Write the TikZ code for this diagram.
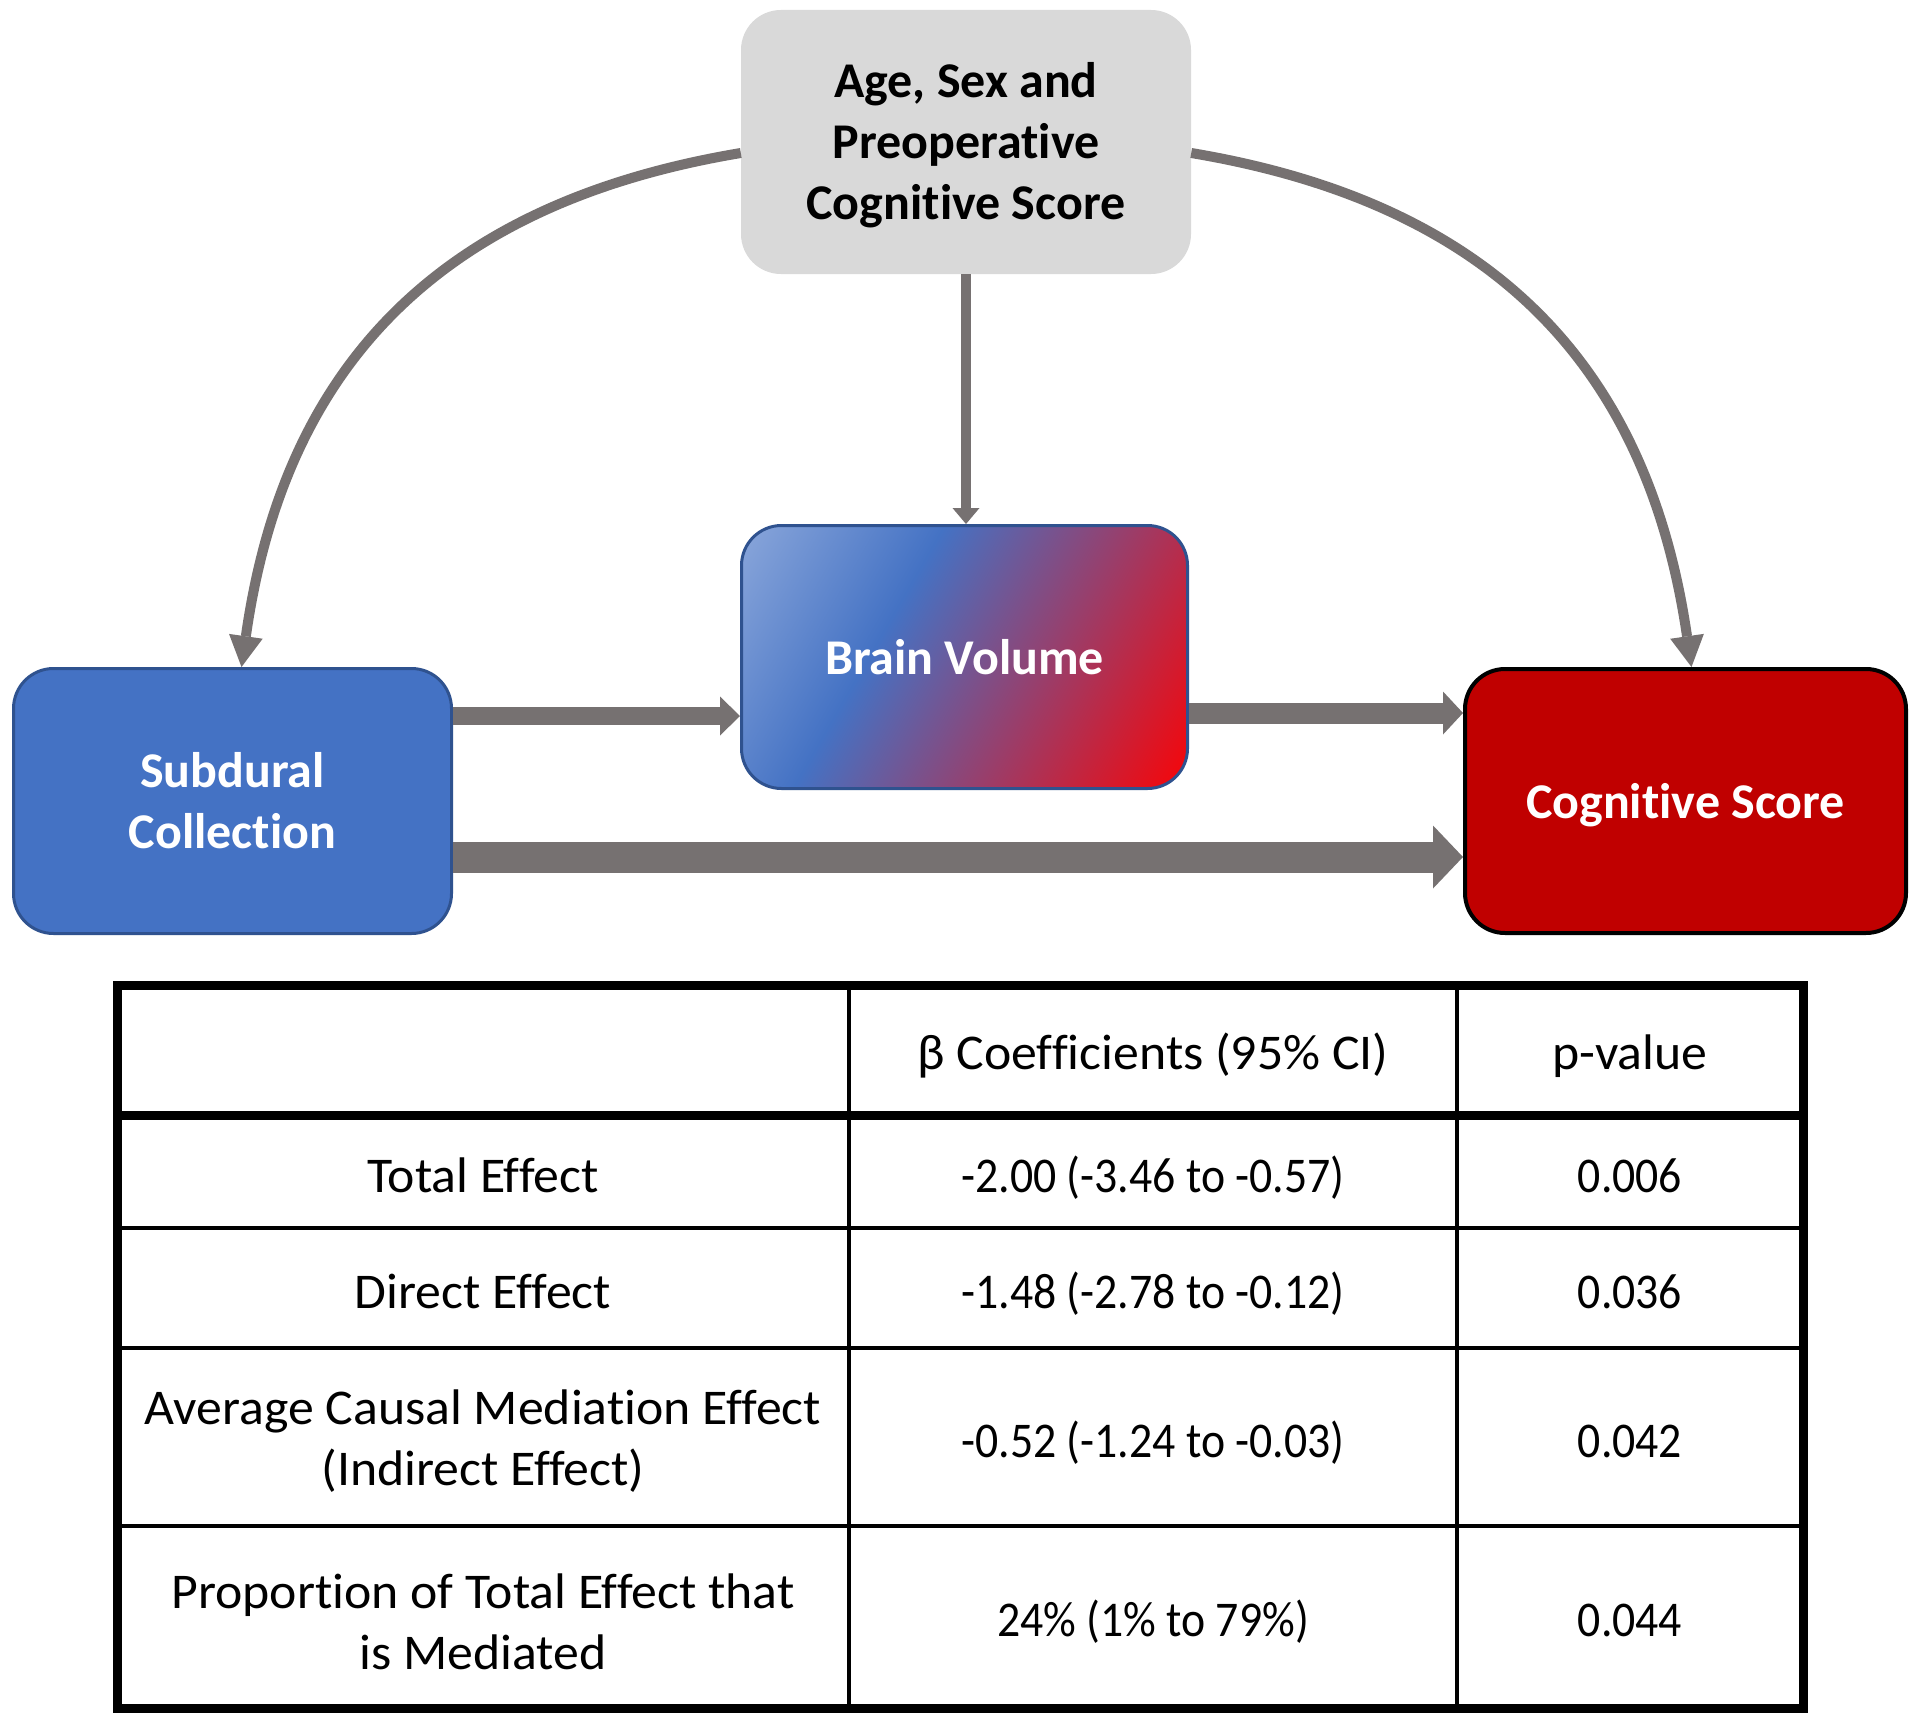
\documentclass[tikz,border=0pt]{standalone}
\usepackage{fontspec}
\setmainfont{Carlito}[Ligatures=NoCommon]
\newfontfamily\wordfont{Carlito}[Ligatures=NoCommon,FakeStretch=1.035]
\newfontfamily\numfont{Carlito}[Ligatures=NoCommon,FakeStretch=0.915]
\usetikzlibrary{arrows.meta,calc}
\definecolor{arrowgrey}{RGB}{118,113,113}
\definecolor{boxgrey}{RGB}{217,217,217}
\definecolor{subblue}{RGB}{68,114,196}
\definecolor{subborder}{RGB}{47,82,143}
\definecolor{cogred}{RGB}{192,0,0}
\definecolor{lightblue}{RGB}{143,170,220}
\definecolor{gradred}{RGB}{255,0,0}
\pgfdeclarehorizontalshading{brainshade}{100bp}{color(0bp)=(lightblue); color(14bp)=(lightblue); color(39bp)=(subblue); color(86bp)=(gradred); color(100bp)=(gradred)}
\begin{document}
\begin{tikzpicture}[x=1pt,y=-1pt,
  box/.style={rectangle, rounded corners=40pt, inner sep=0pt, align=center,
    font=\bfseries\fontsize{50}{61}\selectfont, text=white},
  cell/.style={inner sep=0pt, align=center, font=\wordfont\fontsize{50}{61}\selectfont},
  cellone/.style={cell, text height=38pt, text depth=6pt},
  numcell/.style={cellone, font=\numfont\fontsize{50}{61}\selectfont},
  flow/.style={draw=arrowgrey, line width=10pt},
  block/.style={draw=arrowgrey, line width=#1},
  tblouter/.style={line width=9pt},
  tblinner/.style={line width=4pt}]
\useasboundingbox[fill=white] (0,0) rectangle (1920,1726);

% boxes
\node[box, fill=boxgrey, text=black, minimum width=450pt, minimum height=264pt] (age) at (966,142)
  {\rule{0pt}{42pt}Age, Sex and\\Preoperative\\Cognitive Score};
\node[box, fill=subblue, draw=subborder, line width=3pt, minimum width=438pt, minimum height=265pt] (sub) at (232.5,801)
  {Subdural\\Collection};
\node[box, shade, shading=brainshade, shading angle=-30, draw=subborder, line width=3pt,
  minimum width=446pt, minimum height=263pt] (brain) at (964.5,657) {Brain Volume};
\node[box, fill=cogred, draw=black, line width=4pt, minimum width=441pt, minimum height=264pt,
  text depth=0pt] (cog) at (1685.5,801) {Cognitive Score};

% connectors
\draw[flow, -{Triangle[width=34pt,length=31pt,line width=0pt]}]
  ($(age.west)+(0,11)$) .. controls (430,205) and (283,375) .. ($(sub.north)+(9,0)$);
\draw[flow, -{Triangle[width=34pt,length=31pt,line width=0pt]}]
  ($(age.east)+(0,11)$) .. controls (1502,205) and (1649,375) .. ($(cog.north)+(6,0)$);
\draw[flow, -{Triangle[width=27pt,length=16pt,line width=0pt]}]
  (age.south) -- (age.south |- brain.north);
\draw[block=18pt, -{Triangle[width=39pt,length=20pt,line width=0pt]}]
  ($(sub.east)+(0,-85)$) -- ($(brain.west)+(0,59)$);
\draw[block=21pt, -{Triangle[width=43pt,length=20pt,line width=0pt]}]
  ($(brain.east)+(0,56)$) -- ($(cog.west)+(0,-88)$);
\draw[block=31pt, -{Triangle[width=63pt,length=30pt,line width=0pt]}]
  ($(sub.east)+(0,56)$) -- ($(cog.west)+(0,56)$);

% table
\draw[tblouter] (117,985) rectangle (1803,1708);
\draw[tblouter] (117,1115) -- (1803,1115);
\draw[tblinner] (117,1228) -- (1803,1228);
\draw[tblinner] (117,1348) -- (1803,1348);
\draw[tblinner] (117,1526) -- (1803,1526);
\draw[tblinner] (849,985) -- (849,1708);
\draw[tblinner] (1457,985) -- (1457,1708);

\node[cellone] (h2) at (1153,1053) {β Coefficients (95\% CI)};
\node[cellone] (h3) at (1630,1053) {p-value};

\node[cellone] (r1a) at (483,1176) {Total Effect};
\node[numcell] (r1b) at (1153,1176) {-2.00 (-3.46 to -0.57)};
\node[numcell] (r1c) at (1630,1176) {0.006};

\node[cellone] (r2a) at (483,1292) {Direct Effect};
\node[numcell] (r2b) at (1153,1292) {-1.48 (-2.78 to -0.12)};
\node[numcell] (r2c) at (1630,1292) {0.036};

\node[cell] (r3a) at (483,1441) {Average Causal Mediation Effect\\(Indirect Effect)};
\node[numcell] (r3b) at (1153,1441) {-0.52 (-1.24 to -0.03)};
\node[numcell] (r3c) at (1630,1441) {0.042};

\node[cell] (r4a) at (483,1622) {Proportion of Total Effect that\\is Mediated};
\node[numcell] (r4b) at (1153,1620) {24\% (1\% to 79\%)};
\node[numcell] (r4c) at (1630,1620) {0.044};
\end{tikzpicture}
\end{document}
